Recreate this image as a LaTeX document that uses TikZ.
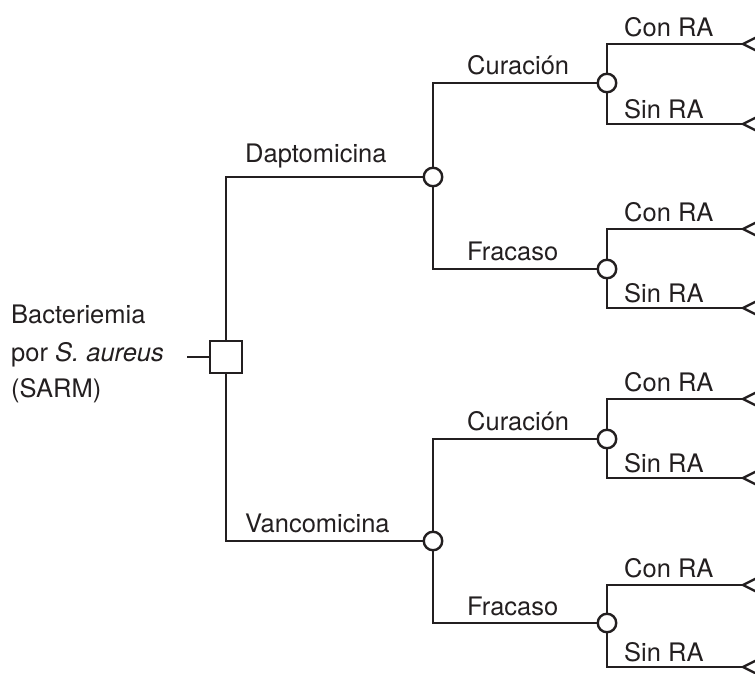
\documentclass[tikz,border=0pt]{standalone}
\usepackage{fontspec}
\setmainfont{TeX Gyre Heros}
\begin{document}
\definecolor{ink}{HTML}{231F20}
\begin{tikzpicture}[x=1pt,y=-1pt,line width=2.4pt,
  chance/.style={circle,draw=ink,fill=white,minimum size=18.5pt,inner sep=0pt},
  decision/.style={rectangle,draw=ink,fill=white,minimum size=32pt,inner sep=0pt},
  lbl/.style={anchor=base west,inner sep=0pt,font=\fontsize{25.5}{30}\selectfont,text=ink},
  branch/.style={draw=ink,line width=2.4pt}]
\useasboundingbox (0,0) rectangle (755,673);
\clip (0,0) rectangle (755,673);
% decision and chance nodes
\node[decision] (root) at (226,357) {};
\node[chance] (D) at (433,177) {};
\node[chance] (V) at (433,541) {};
\node[chance] (DC) at (607,83) {};
\node[chance] (DF) at (607,269) {};
\node[chance] (VC) at (607,439) {};
\node[chance] (VF) at (607,623) {};
\coordinate (stub) at (187,357);
% terminal points
\coordinate (t1) at (743,44);
\coordinate (t2) at (743,124);
\coordinate (t3) at (743,229);
\coordinate (t4) at (743,308);
\coordinate (t5) at (743,399);
\coordinate (t6) at (743,478);
\coordinate (t7) at (743,585);
\coordinate (t8) at (743,667);
% connectors
\draw[branch] (stub) -- (root.west);
\draw[branch] (root.north) |- (D);
\draw[branch] (root.south) |- (V);
\draw[branch] (D.north) |- (DC);
\draw[branch] (D.south) |- (DF);
\draw[branch] (V.north) |- (VC);
\draw[branch] (V.south) |- (VF);
\draw[branch] (DC.north) |- (t1);
\draw[branch] (DC.south) |- (t2);
\draw[branch] (DF.north) |- (t3);
\draw[branch] (DF.south) |- (t4);
\draw[branch] (VC.north) |- (t5);
\draw[branch] (VC.south) |- (t6);
\draw[branch] (VF.north) |- (t7);
\draw[branch] (VF.south) |- (t8);
% terminal symbols
\foreach \t in {t1,t2,t3,t4,t5,t6,t7,t8}{
  \draw[branch] (\t) ++(16,-8) -- (\t) -- ++(16,8);
}
% labels
\node[lbl] (r1) at (10,323) {Bacteriemia};
\node[lbl] (r2) at (10,361) {por \textit{S. aureus}};
\node[lbl] (r3) at (10,397) {(SARM)};
\node[lbl] (lD) at (244,162) {Daptomicina};
\node[lbl] (lV) at (244,532) {Vancomicina};
\node[lbl] (lDC) at (466,74) {Curación};
\node[lbl] (lDF) at (466,260) {Fracaso};
\node[lbl] (lVC) at (466,430) {Curación};
\node[lbl] (lVF) at (466,615) {Fracaso};
\node[lbl] (c1) at (623,36) {Con RA};
\node[lbl] (s1) at (623,118) {Sin RA};
\node[lbl] (c2) at (623,221) {Con RA};
\node[lbl] (s2) at (623,302) {Sin RA};
\node[lbl] (c3) at (623,391) {Con RA};
\node[lbl] (s3) at (623,472) {Sin RA};
\node[lbl] (c4) at (623,577) {Con RA};
\node[lbl] (s4) at (623,661) {Sin RA};
\end{tikzpicture}
\end{document}
